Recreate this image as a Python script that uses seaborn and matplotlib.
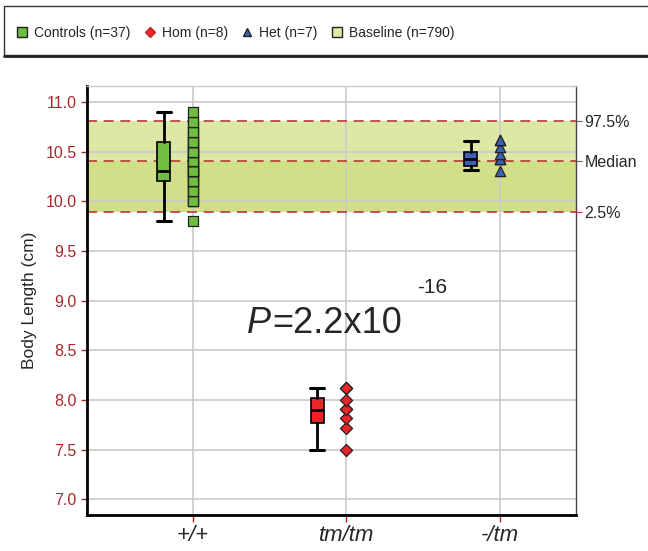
import matplotlib
matplotlib.use("Agg")
import matplotlib.pyplot as plt
from matplotlib.lines import Line2D
from matplotlib.patches import Rectangle
import pandas as pd
import seaborn as sns

# genotype groups
genotypes = ["+/+", "tm/tm", "-/tm"]
groups = ["Controls", "Hom", "Het"]
group_n = [37, 8, 7]

controls_vals = [9.8, 10.0, 10.0, 10.0, 10.1, 10.1, 10.1, 10.2, 10.2, 10.2,
                 10.2, 10.3, 10.3, 10.3, 10.3, 10.3, 10.3, 10.4, 10.4, 10.4,
                 10.4, 10.4, 10.5, 10.5, 10.5, 10.5, 10.5, 10.6, 10.6, 10.6,
                 10.6, 10.7, 10.7, 10.7, 10.8, 10.8, 10.9]
hom_vals = [7.5, 7.72, 7.82, 7.91, 7.91, 8.0, 8.12, 8.12]
het_vals = [10.30, 10.42, 10.42, 10.48, 10.55, 10.62, 10.62]

# box summaries
box_lo = [9.8, 7.5, 10.31]
box_q1 = [10.2, 7.77, 10.35]
box_med = [10.3, 7.90, 10.42]
box_q3 = [10.6, 8.02, 10.50]
box_hi = [10.9, 8.12, 10.61]

# baseline reference range (n=790)
base_lo = 9.89
base_med = 10.40
base_hi = 10.81
baseline_n = 790

colors = {"Controls": "#6fbe3f", "Hom": "#e8262a", "Het": "#3a5fb4"}
markers = {"Controls": "s", "Hom": "D", "Het": "^"}
sizes = {"Controls": 46, "Hom": 38, "Het": 55}
tick_red = "#a8282c"

rows = []
for g, vals in zip(groups, [controls_vals, hom_vals, het_vals]):
    for v in vals:
        rows.append({"group": g, "pos": groups.index(g), "value": v})
df = pd.DataFrame(rows)

sns.set_style("white")
plt.rcParams["font.family"] = ["Liberation Sans", "DejaVu Sans"]

fig = plt.figure(figsize=(6.48, 5.51), dpi=100)
ax = fig.add_axes([0.134, 0.065, 0.755, 0.779])

# baseline band
ax.axhspan(base_med, base_hi, color="#dde8a6", zorder=0, lw=0)
ax.axhspan(base_lo, base_med, color="#d0df88", zorder=0, lw=0)
for yv in [base_lo, base_med, base_hi]:
    ax.axhline(yv, color="#b53a35", lw=1.2, ls=(0, (6, 4)), zorder=1)

# boxes
stats = []
for i, g in enumerate(groups):
    stats.append({"whislo": box_lo[i], "q1": box_q1[i], "med": box_med[i],
                  "q3": box_q3[i], "whishi": box_hi[i], "fliers": []})
bp = ax.bxp(stats, positions=[i - 0.19 for i in range(3)], widths=0.085,
            patch_artist=True, showfliers=False, manage_ticks=False,
            boxprops=dict(edgecolor="black", lw=1.2),
            medianprops=dict(color="black", lw=2),
            whiskerprops=dict(color="black", lw=2),
            capprops=dict(color="black", lw=2.2), capwidths=0.09)
for patch, g in zip(bp["boxes"], groups):
    patch.set_facecolor(colors[g])
for b in bp["whiskers"] + bp["caps"] + bp["medians"] + bp["boxes"]:
    b.set_zorder(3)

# points
for g in groups:
    sub = df[df["group"] == g]
    sns.scatterplot(data=sub, x="pos", y="value", marker=markers[g],
                    color=colors[g], edgecolor="#222222", linewidth=0.9,
                    s=sizes[g], ax=ax, zorder=4, legend=False)

ax.set_xlim(-0.69, 2.495)
ax.set_ylim(6.84, 11.16)
ax.set_xticks(range(3))
ax.set_xticklabels(genotypes, fontsize=16, style="italic")
ax.set_yticks([7.0, 7.5, 8.0, 8.5, 9.0, 9.5, 10.0, 10.5, 11.0])
ax.set_yticklabels([f"{v:.1f}" for v in ax.get_yticks()], fontsize=11.5,
                   color=tick_red)
ax.tick_params(axis="both", direction="out", color=tick_red, length=4,
               width=1, left=True, bottom=True)
ax.tick_params(axis="x", pad=2, length=5)
ax.set_xlabel("")
ax.set_ylabel("Body Length (cm)", fontsize=12.5, labelpad=6)
ax.grid(True, color="#c9c9c9", lw=1.2)
ax.set_axisbelow(True)
for s in ["left", "bottom"]:
    ax.spines[s].set_linewidth(2)
    ax.spines[s].set_color("black")
ax.spines["top"].set_color("#c9c9c9")
ax.spines["top"].set_linewidth(1)
ax.spines["right"].set_color("#444444")
ax.spines["right"].set_linewidth(1)

# right-hand labels for the baseline range
ax2 = ax.twinx()
ax2.set_ylim(ax.get_ylim())
ax2.set_yticks([base_lo, base_med, base_hi])
ax2.set_yticklabels(["2.5%", "Median", "97.5%"], fontsize=11.5)
ax2.tick_params(axis="y", direction="out", color="#b53a35", length=4,
                right=True, pad=2)
for s in ax2.spines.values():
    s.set_visible(False)

# p-value annotation
ax.text(0.352, 8.67, "P", fontsize=26, style="italic", va="baseline")
ax.text(0.515, 8.67, "=2.2x10", fontsize=26, va="baseline")
ax.text(1.46, 9.08, "-16", fontsize=15, va="baseline")

# legend above plot
fig.patches.append(Rectangle((4 / 648, 1 - 55 / 551), 650 / 648, 49 / 551,
                             transform=fig.transFigure, fill=False,
                             edgecolor="#333333", lw=1))
fig.add_artist(Line2D([4 / 648, 1], [1 - 55.5 / 551, 1 - 55.5 / 551],
                      transform=fig.transFigure, color="#222222", lw=2))
handles = [
    Line2D([], [], ls="none", marker="s", color=colors["Controls"],
           markeredgecolor="#222222", markersize=7),
    Line2D([], [], ls="none", marker="D", color=colors["Hom"],
           markeredgecolor="#cc2222", markersize=5.5),
    Line2D([], [], ls="none", marker="^", color=colors["Het"],
           markeredgecolor="#222222", markersize=6),
    Line2D([], [], ls="none", marker="s", color="#e2eaa8",
           markeredgecolor="#222222", markersize=7),
]
labels = [f"{g} (n={n})" for g, n in zip(groups, group_n)]
labels.append(f"Baseline (n={baseline_n})")
fig.legend(handles, labels, loc="center left", ncol=4, frameon=False,
           bbox_to_anchor=(8 / 648, 1 - 33 / 551), fontsize=10,
           handletextpad=0.3, columnspacing=0.75, handlelength=1.2,
           borderaxespad=0)

fig.savefig("out.png", dpi=100)
